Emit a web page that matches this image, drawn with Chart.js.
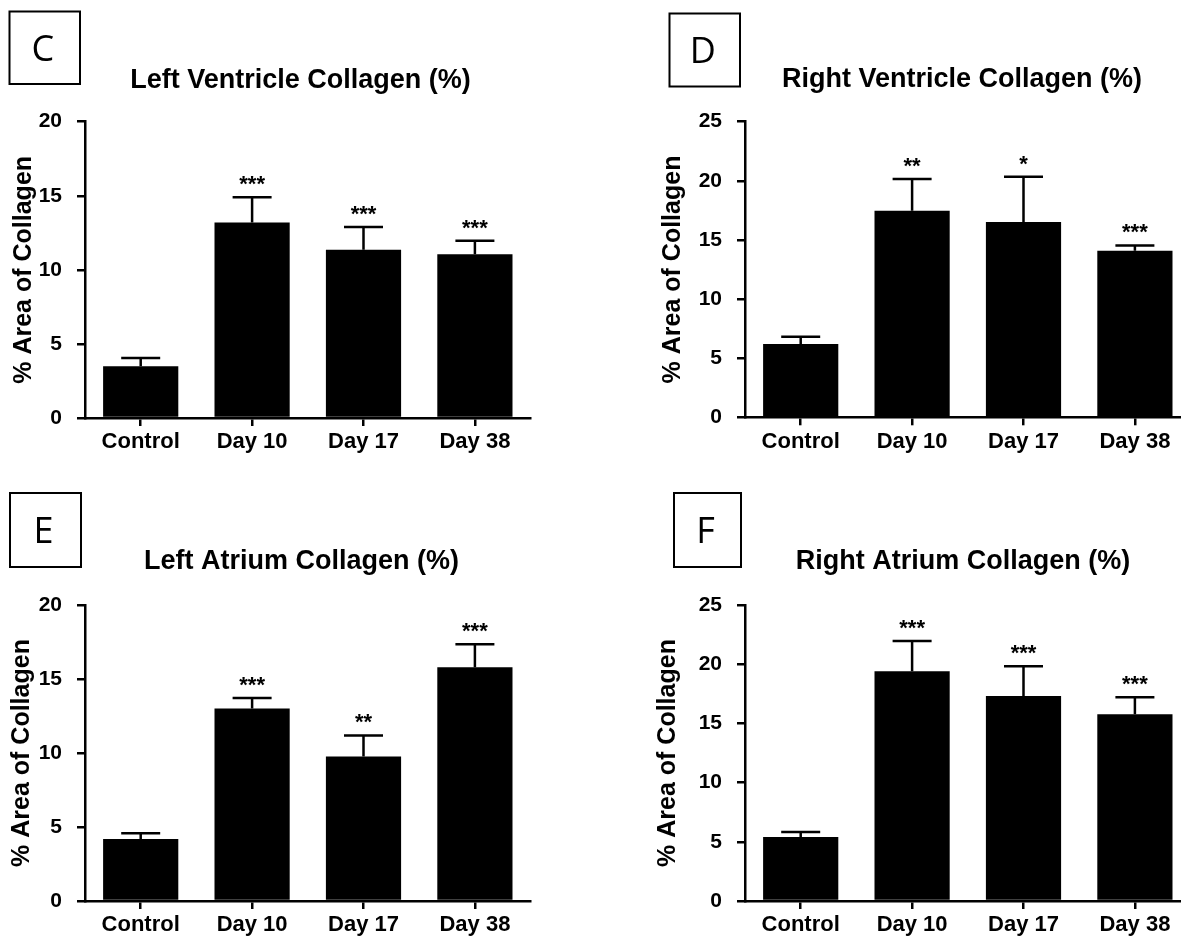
<!DOCTYPE html>
<html>
<head>
<meta charset="utf-8">
<script src="https://cdn.jsdelivr.net/npm/chart.js@4.4.1/dist/chart.umd.min.js"></script>
<style>
html,body{margin:0;padding:0;background:#fff;overflow:hidden;width:1181px;height:937px;}
.p{position:absolute;}
canvas{display:block;}
</style>
</head>
<body>
<div class="p" style="left:0;top:0;"><canvas id="cC" width="590" height="468" style="width:590px;height:468px"></canvas></div>
<div class="p" style="left:590px;top:0;"><canvas id="cD" width="611" height="468" style="width:611px;height:468px"></canvas></div>
<div class="p" style="left:0;top:468px;"><canvas id="cE" width="590" height="469" style="width:590px;height:469px"></canvas></div>
<div class="p" style="left:590px;top:468px;"><canvas id="cF" width="611" height="469" style="width:611px;height:469px"></canvas></div>
<script>
// ---------- data ----------
const categories = ['Control', 'Day 10', 'Day 17', 'Day 38'];
const yAxisLabel = '% Area of Collagen';

const lvTitle = 'Left Ventricle Collagen (%)';
const lvMean  = [3.5, 13.2, 11.35, 11.05];
const lvSem   = [0.55, 1.7, 1.55, 0.92];
const lvStars = ['', '***', '***', '***'];
const lvTicks = [0, 5, 10, 15, 20];

const rvTitle = 'Right Ventricle Collagen (%)';
const rvMean  = [6.2, 17.47, 16.52, 14.09];
const rvSem   = [0.62, 2.68, 3.83, 0.45];
const rvStars = ['', '**', '*', '***'];
const rvTicks = [0, 5, 10, 15, 20, 25];

const laTitle = 'Left Atrium Collagen (%)';
const laMean  = [4.19, 13.0, 9.77, 15.79];
const laSem   = [0.38, 0.72, 1.42, 1.55];
const laStars = ['', '***', '**', '***'];
const laTicks = [0, 5, 10, 15, 20];

const raTitle = 'Right Atrium Collagen (%)';
const raMean  = [5.41, 19.4, 17.31, 15.77];
const raSem   = [0.42, 2.56, 2.51, 1.43];
const raStars = ['', '***', '***', '***'];
const raTicks = [0, 5, 10, 15, 20, 25];

const panelLetters = ['C', 'D', 'E', 'F'];

// ---------- drawing ----------
const FAM = '"Liberation Sans", Arial, Helvetica, sans-serif';

function decorPlugin(p) {
  return {
    id: 'decor',
    afterDatasetsDraw(chart) {
      const ctx = chart.ctx;
      const ys = chart.scales.y;
      const meta = chart.getDatasetMeta(0);
      ctx.save();
      ctx.strokeStyle = '#000';
      ctx.fillStyle = '#000';
      ctx.lineWidth = 2.5;
      p.mean.forEach((m, i) => {
        const cx = meta.data[i].x;
        const y0 = ys.getPixelForValue(m);
        const y1 = ys.getPixelForValue(m + p.sem[i]);
        ctx.beginPath();
        ctx.moveTo(cx, y0);
        ctx.lineTo(cx, y1);
        ctx.moveTo(cx - 19.5, y1);
        ctx.lineTo(cx + 19.5, y1);
        ctx.stroke();
        if (p.stars[i]) {
          ctx.font = 'bold 22px ' + FAM;
          ctx.textAlign = 'center';
          ctx.textBaseline = 'alphabetic';
          ctx.fillText(p.stars[i], cx, y1 - 6);
        }
      });
      // panel title
      ctx.font = 'bold 27px ' + FAM;
      ctx.textAlign = 'center';
      ctx.textBaseline = 'alphabetic';
      ctx.fillText(p.title, p.titleX, p.titleY);
      // letter box
      const [bx, by, bw, bh] = p.box;
      ctx.lineWidth = 2;
      ctx.strokeRect(bx, by, bw, bh);
      ctx.font = '36px "Open Sans", "Noto Sans", sans-serif';
      ctx.textBaseline = 'middle';
      ctx.fillText(p.letter, bx + bw / 2 - 2, by + bh / 2 + 3);
      ctx.restore();
    }
  };
}

function makeChart(id, p) {
  const ymax = p.ticks[p.ticks.length - 1];
  return new Chart(document.getElementById(id), {
    type: 'bar',
    data: {
      labels: categories,
      datasets: [{
        data: p.mean,
        backgroundColor: '#000',
        borderWidth: 0,
        categoryPercentage: 1.0,
        barPercentage: 0.675
      }]
    },
    options: {
      responsive: false,
      animation: false,
      devicePixelRatio: 1,
      layout: { padding: { top: p.padTop, right: p.padRight, left: 0, bottom: 0 } },
      plugins: { legend: { display: false }, tooltip: { enabled: false }, title: { display: false } },
      scales: {
        x: {
          ticks: { color: '#000', font: { family: FAM, size: 22, weight: 'bold' }, padding: 3, maxRotation: 0, autoSkip: false },
          grid: { offset: false, drawOnChartArea: false, drawTicks: true, tickLength: 8, color: '#000', lineWidth: 2.5 },
          border: { display: true, color: '#000', width: 2.5 },
          afterFit(s) { s.height = p.xH; }
        },
        y: {
          min: 0,
          max: ymax,
          afterBuildTicks(s) { s.ticks = p.ticks.map(v => ({ value: v })); },
          ticks: { color: '#000', font: { family: FAM, size: 21, weight: 'bold' }, padding: 15 },
          grid: { drawOnChartArea: false, drawTicks: true, tickLength: 8, color: '#000', lineWidth: 2.5 },
          border: { display: true, color: '#000', width: 2.5 },
          title: { display: true, text: yAxisLabel, color: '#000', font: { family: FAM, size: 25, weight: 'bold' }, padding: { top: p.titlePad, bottom: 0 } },
          afterFit(s) { s.width = p.yW; }
        }
      }
    },
    plugins: [decorPlugin(p)]
  });
}

makeChart('cC', { mean: lvMean, sem: lvSem, stars: lvStars, ticks: lvTicks, title: lvTitle, letter: panelLetters[0],
  padTop: 121.7, padRight: 59.4, xH: 50, yW: 85, titlePad: 9,
  titleX: 300.5, titleY: 88.3, box: [9.5, 11.5, 70.5, 72.5] });

makeChart('cD', { mean: rvMean, sem: rvSem, stars: rvStars, ticks: rvTicks, title: rvTitle, letter: panelLetters[1],
  padTop: 121.7, padRight: 10.4, xH: 50.7, yW: 155, titlePad: 68,
  titleX: 372, titleY: 87.3, box: [79.5, 13.5, 70.5, 73] });

makeChart('cE', { mean: laMean, sem: laSem, stars: laStars, ticks: laTicks, title: laTitle, letter: panelLetters[2],
  padTop: 137, padRight: 59.4, xH: 36, yW: 85, titlePad: 7,
  titleX: 301.5, titleY: 101.3, box: [10, 25, 71, 74] });

makeChart('cF', { mean: raMean, sem: raSem, stars: raStars, ticks: raTicks, title: raTitle, letter: panelLetters[3],
  padTop: 137, padRight: 10.4, xH: 36, yW: 155, titlePad: 63,
  titleX: 373, titleY: 101.3, box: [84, 25, 67, 74] });
</script>
</body>
</html>
